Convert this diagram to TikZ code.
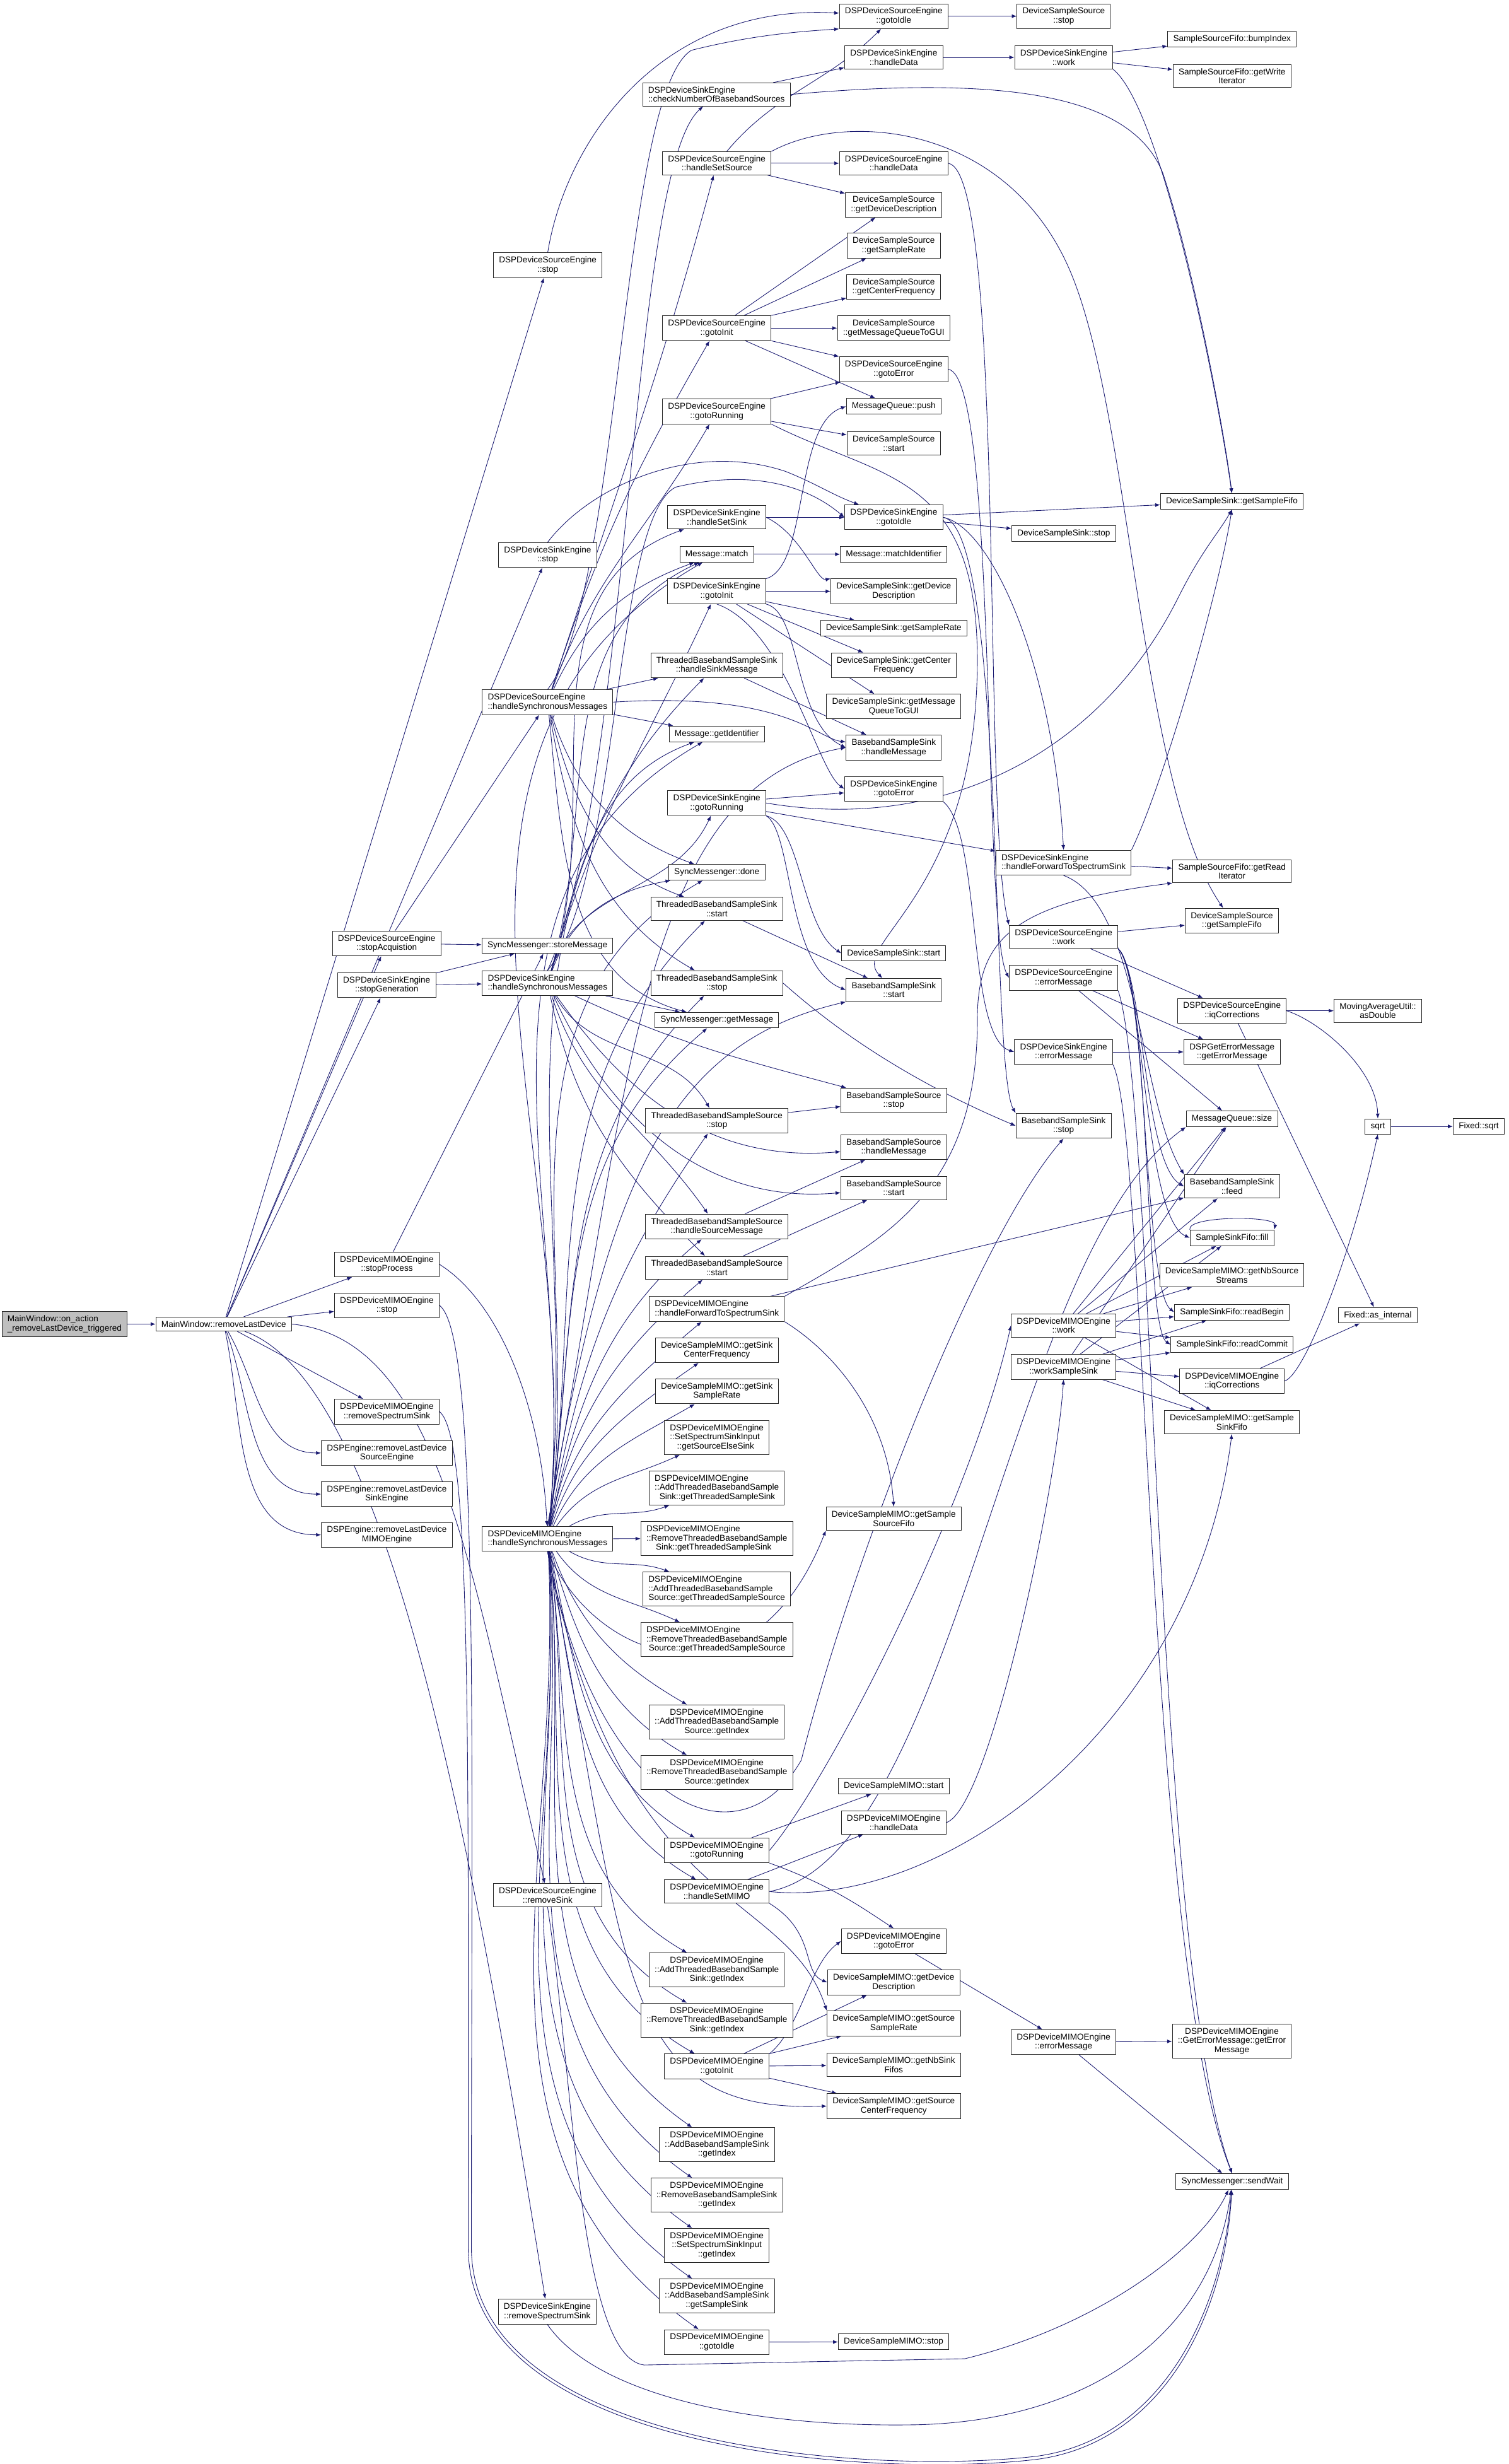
\documentclass[tikz,border=0pt]{standalone}
\usepackage{fontspec}
\setmainfont{Liberation Sans}
\usepackage{xcolor}
\usepackage{tikz}
\usetikzlibrary{arrows.meta,backgrounds}

\definecolor{edgeblue}{RGB}{25,25,112}
\definecolor{rootgray}{RGB}{191,191,191}

\begin{document}
\begin{tikzpicture}[
    x=0.25mm, y=-0.25mm,
    font=\fontsize{3.875}{4.125}\selectfont,
    fn/.style={draw=black!85, line width=0.28pt, fill=white, align=center,
               inner xsep=2.5pt, inner ysep=1.75pt},
    fnl/.style={fn, align=left},
    root/.style={fnl, fill=rootgray},
    call/.style={-{Latex[length=2.25pt,width=1.75pt]}, draw=edgeblue, line width=0.25pt}]
    \useasboundingbox (0,0) rectangle (960,1568);
    % caller side
    \node[root] (onAction) at (41.1,842.6) {MainWindow::on\_action\\\_removeLastDevice\_triggered};
    \node[fn] (removeLast) at (142.4,842.6) {MainWindow::removeLastDevice};
    \node[fn] (stopAcq) at (246.1,600.3) {DSPDeviceSourceEngine\\::stopAcquistion};
    \node[fn] (stopGen) at (246.1,626.9) {DSPDeviceSinkEngine\\::stopGeneration};
    \node[fn] (mimoStopProc) at (246.2,804.6) {DSPDeviceMIMOEngine\\::stopProcess};
    \node[fn] (mimoStop) at (246.2,830.7) {DSPDeviceMIMOEngine\\::stop};
    \node[fn] (mimoRmSpec) at (246.2,898.3) {DSPDeviceMIMOEngine\\::removeSpectrumSink};
    \node[fn] (engRmSrc) at (246.2,924.6) {DSPEngine::removeLastDevice\\SourceEngine};
    \node[fn] (engRmSink) at (246.2,950.8) {DSPEngine::removeLastDevice\\SinkEngine};
    \node[fn] (engRmMimo) at (246.2,976.7) {DSPEngine::removeLastDevice\\MIMOEngine};
    \node[fn] (srcStop) at (348.6,168.7) {DSPDeviceSourceEngine\\::stop};
    \node[fn] (sinkStop) at (348.5,353.2) {DSPDeviceSinkEngine\\::stop};
    \node[fnl] (srcHSM) at (348.5,446.8) {DSPDeviceSourceEngine\\::handleSynchronousMessages};
    \node[fn] (storeMsg) at (348.4,601.7) {SyncMessenger::storeMessage};
    \node[fnl] (sinkHSM) at (348.5,625.6) {DSPDeviceSinkEngine\\::handleSynchronousMessages};
    \node[fnl] (mimoHSM) at (348.5,979.2) {DSPDeviceMIMOEngine\\::handleSynchronousMessages};
    \node[fn] (srcRmSink) at (348.5,1206) {DSPDeviceSourceEngine\\::removeSink};
    \node[fn] (sinkRmSpec) at (348.3,1471) {DSPDeviceSinkEngine\\::removeSpectrumSink};
    % engine internals
    \node[fnl] (sinkCheckNb) at (456,60.1) {DSPDeviceSinkEngine\\::checkNumberOfBasebandSources};
    \node[fn] (srcSetSource) at (456.2,103.9) {DSPDeviceSourceEngine\\::handleSetSource};
    \node[fn] (srcInit) at (456.2,208.8) {DSPDeviceSourceEngine\\::gotoInit};
    \node[fn] (srcRunning) at (456.2,261.8) {DSPDeviceSourceEngine\\::gotoRunning};
    \node[fn] (sinkSetSink) at (456.2,329.2) {DSPDeviceSinkEngine\\::handleSetSink};
    \node[fn] (msgMatch) at (456.2,352.7) {Message::match};
    \node[fn] (sinkInit) at (456.2,376.3) {DSPDeviceSinkEngine\\::gotoInit};
    \node[fn] (tbssHandle) at (456.2,423.4) {ThreadedBasebandSampleSink\\::handleSinkMessage};
    \node[fn] (msgGetId) at (456.2,467) {Message::getIdentifier};
    \node[fn] (sinkRunning) at (456.2,511) {DSPDeviceSinkEngine\\::gotoRunning};
    \node[fn] (syncDone) at (456.2,555.1) {SyncMessenger::done};
    \node[fn] (tbssStart) at (456.2,578.3) {ThreadedBasebandSampleSink\\::start};
    \node[fn] (tbssStop) at (456.2,625.6) {ThreadedBasebandSampleSink\\::stop};
    \node[fn] (syncGetMsg) at (456.2,649.2) {SyncMessenger::getMessage};
    \node[fn] (tbsrcStop) at (456.2,713.2) {ThreadedBasebandSampleSource\\::stop};
    \node[fn] (tbsrcHandle) at (456.2,780.5) {ThreadedBasebandSampleSource\\::handleSourceMessage};
    \node[fn] (tbsrcStart) at (456.2,806.8) {ThreadedBasebandSampleSource\\::start};
    \node[fnl] (mimoFwd) at (456.2,833) {DSPDeviceMIMOEngine\\::handleForwardToSpectrumSink};
    \node[fn] (mimoSinkCF) at (456.2,859.2) {DeviceSampleMIMO::getSink\\CenterFrequency};
    \node[fn] (mimoSinkSR) at (456.2,885.4) {DeviceSampleMIMO::getSink\\SampleRate};
    \node[fnl] (mimoSSIElse) at (456.2,914.8) {DSPDeviceMIMOEngine\\::SetSpectrumSinkInput\\\ \ \ ::getSourceElseSink};
    \node[fnl] (mimoAddTSink) at (456.2,946.9) {DSPDeviceMIMOEngine\\::AddThreadedBasebandSample\\\ \ Sink::getThreadedSampleSink};
    \node[fnl] (mimoRmTSink) at (456.2,979.1) {DSPDeviceMIMOEngine\\::RemoveThreadedBasebandSample\\\ \ \ \ Sink::getThreadedSampleSink};
    \node[fnl] (mimoAddTSrc) at (456.2,1011.2) {DSPDeviceMIMOEngine\\::AddThreadedBasebandSample\\Source::getThreadedSampleSource};
    \node[fnl] (mimoRmTSrc) at (456.2,1043.3) {DSPDeviceMIMOEngine\\::RemoveThreadedBasebandSample\\\ Source::getThreadedSampleSource};
    \node[fn] (mimoAddTSrcIdx) at (456.2,1095.7) {DSPDeviceMIMOEngine\\::AddThreadedBasebandSample\\Source::getIndex};
    \node[fn] (mimoRmTSrcIdx) at (456.2,1127.9) {DSPDeviceMIMOEngine\\::RemoveThreadedBasebandSample\\Source::getIndex};
    \node[fn] (mimoRunning) at (456.2,1177.5) {DSPDeviceMIMOEngine\\::gotoRunning};
    \node[fn] (mimoSetMIMO) at (456.2,1203.7) {DSPDeviceMIMOEngine\\::handleSetMIMO};
    \node[fn] (mimoAddTSinkIdx) at (456.2,1253.6) {DSPDeviceMIMOEngine\\::AddThreadedBasebandSample\\Sink::getIndex};
    \node[fn] (mimoRmTSinkIdx) at (456.2,1285.5) {DSPDeviceMIMOEngine\\::RemoveThreadedBasebandSample\\Sink::getIndex};
    \node[fn] (mimoInit) at (456.2,1315) {DSPDeviceMIMOEngine\\::gotoInit};
    \node[fn] (mimoAddBSinkIdx) at (456.2,1364.8) {DSPDeviceMIMOEngine\\::AddBasebandSampleSink\\::getIndex};
    \node[fn] (mimoRmBSinkIdx) at (456.2,1396.9) {DSPDeviceMIMOEngine\\::RemoveBasebandSampleSink\\::getIndex};
    \node[fn] (mimoSSIIdx) at (456.2,1428.9) {DSPDeviceMIMOEngine\\::SetSpectrumSinkInput\\::getIndex};
    \node[fn] (mimoAddBSinkSS) at (456.2,1461) {DSPDeviceMIMOEngine\\::AddBasebandSampleSink\\::getSampleSink};
    \node[fn] (mimoIdle) at (456.2,1490.4) {DSPDeviceMIMOEngine\\::gotoIdle};
    % devices and helpers
    \node[fn] (srcIdle) at (568.8,10.3) {DSPDeviceSourceEngine\\::gotoIdle};
    \node[fn] (sinkHandleData) at (568.8,36.5) {DSPDeviceSinkEngine\\::handleData};
    \node[fn] (srcHandleData) at (568.8,103.9) {DSPDeviceSourceEngine\\::handleData};
    \node[fn] (dssDevDesc) at (568.8,130.3) {DeviceSampleSource\\::getDeviceDescription};
    \node[fn] (dssSR) at (568.8,156.3) {DeviceSampleSource\\::getSampleRate};
    \node[fn] (dssCF) at (568.8,182.7) {DeviceSampleSource\\::getCenterFrequency};
    \node[fn] (dssMQ) at (568.8,208.8) {DeviceSampleSource\\::getMessageQueueToGUI};
    \node[fn] (srcError) at (568.8,235) {DSPDeviceSourceEngine\\::gotoError};
    \node[fn] (mqPush) at (568.8,258.6) {MessageQueue::push};
    \node[fn] (dssStart) at (568.8,282.2) {DeviceSampleSource\\::start};
    \node[fn] (sinkIdle) at (568.8,329.2) {DSPDeviceSinkEngine\\::gotoIdle};
    \node[fn] (msgMatchId) at (568.8,352.7) {Message::matchIdentifier};
    \node[fn] (dskDevDesc) at (568.8,376.3) {DeviceSampleSink::getDevice\\Description};
    \node[fn] (dskSR) at (568.8,399.8) {DeviceSampleSink::getSampleRate};
    \node[fn] (dskCF) at (568.8,423.4) {DeviceSampleSink::getCenter\\Frequency};
    \node[fn] (dskMQ) at (568.8,449.6) {DeviceSampleSink::getMessage\\QueueToGUI};
    \node[fn] (bssHandle) at (568.8,475.7) {BasebandSampleSink\\::handleMessage};
    \node[fn] (sinkError) at (568.8,502) {DSPDeviceSinkEngine\\::gotoError};
    \node[fn] (dskStart) at (568.8,606.6) {DeviceSampleSink::start};
    \node[fn] (bssStart) at (568.8,630) {BasebandSampleSink\\::start};
    \node[fn] (bsrcStop) at (568.8,700.3) {BasebandSampleSource\\::stop};
    \node[fn] (bsrcHandle) at (568.8,729.9) {BasebandSampleSource\\::handleMessage};
    \node[fn] (bsrcStart) at (568.8,756) {BasebandSampleSource\\::start};
    \node[fn] (dsmSrcFifo) at (568.8,966.4) {DeviceSampleMIMO::getSample\\SourceFifo};
    \node[fn] (dsmStart) at (568.8,1136.5) {DeviceSampleMIMO::start};
    \node[fn] (mimoHandleData) at (568.8,1159.8) {DSPDeviceMIMOEngine\\::handleData};
    \node[fn] (mimoError) at (568.8,1235.2) {DSPDeviceMIMOEngine\\::gotoError};
    \node[fn] (dsmDevDesc) at (568.8,1261.5) {DeviceSampleMIMO::getDevice\\Description};
    \node[fn] (dsmSrcSR) at (568.8,1287.6) {DeviceSampleMIMO::getSource\\SampleRate};
    \node[fn] (dsmNbSink) at (568.8,1314) {DeviceSampleMIMO::getNbSink\\Fifos};
    \node[fn] (dsmSrcCF) at (568.8,1340.2) {DeviceSampleMIMO::getSource\\CenterFrequency};
    \node[fn] (dsmStop) at (568.7,1490.3) {DeviceSampleMIMO::stop};
    \node[fn] (dssStop) at (677,10.3) {DeviceSampleSource\\::stop};
    \node[fn] (sinkWork) at (677,36.5) {DSPDeviceSinkEngine\\::work};
    \node[fn] (dskStop) at (677,339.5) {DeviceSampleSink::stop};
    \node[fnl] (sinkFwd) at (676.9,549) {DSPDeviceSinkEngine\\::handleForwardToSpectrumSink};
    \node[fn] (srcWork) at (676.9,596.2) {DSPDeviceSourceEngine\\::work};
    \node[fn] (srcErrMsg) at (676.9,622.3) {DSPDeviceSourceEngine\\::errorMessage};
    \node[fn] (sinkErrMsg) at (676.9,669.4) {DSPDeviceSinkEngine\\::errorMessage};
    \node[fn] (bssStop) at (676.9,716.4) {BasebandSampleSink\\::stop};
    \node[fn] (mimoWork) at (676.9,843.5) {DSPDeviceMIMOEngine\\::work};
    \node[fn] (mimoWorkSink) at (676.9,869.8) {DSPDeviceMIMOEngine\\::workSampleSink};
    \node[fn] (mimoErrMsg) at (676.9,1299.5) {DSPDeviceMIMOEngine\\::errorMessage};
    \node[fn] (ssfBump) at (784.1,24.9) {SampleSourceFifo::bumpIndex};
    \node[fn] (ssfWrite) at (784.1,48.4) {SampleSourceFifo::getWrite\\Iterator};
    \node[fn] (dskFifo) at (784,319.1) {DeviceSampleSink::getSampleFifo};
    \node[fn] (ssfRead) at (784.1,554.4) {SampleSourceFifo::getRead\\Iterator};
    \node[fn] (dssFifo) at (784,585.9) {DeviceSampleSource\\::getSampleFifo};
    \node[fn] (srcIQ) at (784.1,643.2) {DSPDeviceSourceEngine\\::iqCorrections};
    \node[fn] (getErr) at (784.1,669.4) {DSPGetErrorMessage\\::getErrorMessage};
    \node[fn] (mqSize) at (784,712) {MessageQueue::size};
    \node[fn] (bssFeed) at (784.1,755) {BasebandSampleSink\\::feed};
    \node[fn] (fifoFill) at (784.1,787.7) {SampleSinkFifo::fill};
    \node[fn] (dsmNbSrc) at (784,811.5) {DeviceSampleMIMO::getNbSource\\Streams};
    \node[fn] (fifoReadBegin) at (784,835) {SampleSinkFifo::readBegin};
    \node[fn] (fifoReadCommit) at (784.1,855.6) {SampleSinkFifo::readCommit};
    \node[fn] (mimoIQ) at (784.1,878.8) {DSPDeviceMIMOEngine\\::iqCorrections};
    \node[fn] (dsmSinkFifo) at (784,905) {DeviceSampleMIMO::getSample\\SinkFifo};
    \node[fn] (mimoGetErr) at (784,1298.8) {DSPDeviceMIMOEngine\\::GetErrorMessage::getError\\Message};
    \node[fn] (sendWait) at (784.2,1388.3) {SyncMessenger::sendWait};
    \node[fn] (maDouble) at (876.9,643.2) {MovingAverageUtil::\\asDouble};
    \node[fn] (sqrtN) at (876.9,716.8) {sqrt};
    \node[fn] (fixInternal) at (876.9,837) {Fixed::as\_internal};
    \node[fn] (fixSqrt) at (941.1,716.8) {Fixed::sqrt};

    \begin{scope}[on background layer]
    % from the menu action
    \draw[call] (onAction) -- (removeLast);
    \draw[call] (removeLast) -- (srcStop);
    \draw[call] (removeLast) -- (sinkStop);
    \draw[call] (removeLast) -- (stopAcq);
    \draw[call] (removeLast) -- (stopGen);
    \draw[call] (removeLast) -- (mimoStopProc);
    \draw[call] (removeLast) -- (mimoStop);
    \draw[call] (removeLast) -- (mimoRmSpec);
    \draw[call] (removeLast) to[out=-60,in=180] (engRmSrc);
    \draw[call] (removeLast) to[out=-70,in=180] (engRmSink);
    \draw[call] (removeLast) to[out=-78,in=180] (engRmMimo);
    \draw[call] (removeLast.east) .. controls (280,852) and (300,1000) .. (srcRmSink);
    \draw[call] (removeLast) .. controls (250,880) and (305,1200) .. (sinkRmSpec);
    \draw[call] (stopAcq) -- (storeMsg);
    \draw[call] (stopAcq) -- (srcHSM);
    \draw[call] (stopGen) -- (storeMsg);
    \draw[call] (stopGen) -- (sinkHSM);
    \draw[call] (mimoStopProc) -- (storeMsg);
    \draw[call] (mimoStopProc.east) .. controls (320,830) and (345,900) .. (mimoHSM);
    \draw[call] (mimoStop.east) .. controls (305,850) and (300,1100) .. (300,1430)
          .. controls (300,1560) and (560,1575) .. (660,1563)
          .. controls (740,1552) and (778,1470) .. (sendWait);
    \draw[call] (mimoRmSpec.east) .. controls (300,915) and (298,1100) .. (298,1430)
          .. controls (298,1562) and (560,1577) .. (660,1565)
          .. controls (742,1554) and (780,1470) .. (sendWait);
    \draw[call] (srcRmSink.south) .. controls (365,1320) and (368,1500) .. (410,1505)
          -- (614,1501) .. controls (700,1480) and (765,1430) .. (sendWait);
    \draw[call] (sinkRmSpec.south) .. controls (380,1525) and (480,1545) .. (584,1543)
          .. controls (700,1540) and (772,1480) .. (sendWait);
    % source engine
    \draw[call] (srcStop.north) .. controls (360,90) and (420,2) .. (srcIdle);
    \draw[call] (srcHSM.north) .. controls (395,380) and (395,60) .. (440,32)
          .. controls (480,22) and (510,20) .. (srcIdle.south west);
    \draw[call] (srcHSM) to[out=72,in=-105] (srcSetSource);
    \draw[call] (srcHSM) to[out=72,in=-120] (srcInit);
    \draw[call] (srcHSM) to[out=70,in=-120] (srcRunning);
    \draw[call] (srcHSM) to[out=65,in=200] (msgMatch);
    \draw[call] (srcHSM) -- (tbssHandle);
    \draw[call] (srcHSM) -- (msgGetId);
    \draw[call] (srcHSM.east) .. controls (500,440) and (520,470) .. (bssHandle);
    \draw[call] (srcHSM) to[out=-72,in=160] (syncDone);
    \draw[call] (srcHSM) to[out=-76,in=160] (tbssStart);
    \draw[call] (srcHSM) to[out=-80,in=150] (tbssStop);
    \draw[call] (srcHSM) to[out=-84,in=165] (syncGetMsg);
    \draw[call] (srcIdle) -- (dssStop);
    \draw[call] (srcSetSource) to[out=50,in=-135] (srcIdle);
    \draw[call] (srcSetSource) -- (srcHandleData);
    \draw[call] (srcSetSource) -- (dssDevDesc);
    \draw[call] (srcSetSource.north east) .. controls (540,70) and (640,80) .. (680,170)
          .. controls (720,260) and (725,500) .. (dssFifo);
    \draw[call] (srcHandleData.east) .. controls (640,110) and (625,520) .. (srcWork.north west);
    \draw[call] (srcInit) -- (dssDevDesc);
    \draw[call] (srcInit) -- (dssSR);
    \draw[call] (srcInit) -- (dssCF);
    \draw[call] (srcInit) -- (dssMQ);
    \draw[call] (srcInit) -- (srcError);
    \draw[call] (srcInit) -- (mqPush);
    \draw[call] (srcRunning) -- (srcError);
    \draw[call] (srcRunning) -- (dssStart);
    \draw[call] (srcRunning.south east) .. controls (560,305) and (622,300) .. (622,420)
          .. controls (622,570) and (540,600) .. (bssStart);
    \draw[call] (srcError.east) .. controls (635,240) and (625,590) .. (srcErrMsg.west);
    \draw[call] (srcWork) -- (dssFifo);
    \draw[call] (srcWork) -- (srcIQ);
    \draw[call] (srcWork.south east) .. controls (728,620) and (728,740) .. (bssFeed.west);
    \draw[call] (srcWork.south east) .. controls (728,620) and (728,775) .. (fifoFill.west);
    \draw[call] (srcWork.south east) .. controls (730,620) and (728,820) .. (fifoReadBegin.west);
    \draw[call] (srcWork.south east) .. controls (732,620) and (728,845) .. (fifoReadCommit.west);
    \draw[call] (srcErrMsg) -- (getErr);
    \draw[call] (srcErrMsg) -- (mqSize);
    \draw[call] (srcErrMsg.south east) .. controls (735,700) and (735,1250) .. (sendWait.north);
    \draw[call] (srcIQ) -- (maDouble);
    \draw[call] (srcIQ.east) .. controls (840,650) and (876,680) .. (sqrtN.north);
    \draw[call] (srcIQ) -- (fixInternal);
    \draw[call] (sqrtN) -- (fixSqrt);
    \draw[call] (fifoFill.north west) .. controls +(-2,-9) and +(2,-9) .. (fifoFill.north east);
    % sink engine
    \draw[call] (sinkStop.north) .. controls (375,310) and (440,280) .. (500,300)
          .. controls (520,308) and (530,315) .. (sinkIdle);
    \draw[call] (sinkHSM.north) .. controls (395,560) and (390,330) .. (430,310)
          .. controls (480,298) and (515,310) .. (sinkIdle.west);
    \draw[call] (sinkHSM.north) .. controls (402,500) and (400,110) .. (sinkCheckNb);
    \draw[call] (sinkHSM) to[out=72,in=200] (sinkSetSink);
    \draw[call] (sinkHSM) to[out=74,in=-115] (sinkInit);
    \draw[call] (sinkHSM) to[out=74,in=-115] (sinkRunning);
    \draw[call] (sinkHSM) to[out=74,in=205] (msgMatch);
    \draw[call] (sinkHSM) to[out=74,in=200] (msgGetId);
    \draw[call] (sinkHSM) to[out=70,in=190] (syncDone);
    \draw[call] (sinkHSM) -- (syncGetMsg);
    \draw[call] (sinkHSM) to[out=-60,in=120] (tbsrcStop);
    \draw[call] (sinkHSM) to[out=-72,in=125] (tbsrcHandle);
    \draw[call] (sinkHSM) to[out=-78,in=135] (tbsrcStart);
    \draw[call] (sinkHSM) to[out=-25,in=165] (bsrcStop);
    \draw[call] (sinkHSM) to[out=-55,in=185] (bsrcHandle);
    \draw[call] (sinkHSM) to[out=-65,in=185] (bsrcStart);
    \draw[call] (sinkCheckNb) -- (sinkHandleData);
    \draw[call] (sinkCheckNb.east) .. controls (640,48) and (720,60) .. (740,110)
          .. controls (760,170) and (780,280) .. (dskFifo.north);
    \draw[call] (sinkHandleData) -- (sinkWork);
    \draw[call] (sinkWork) -- (ssfBump);
    \draw[call] (sinkWork) -- (ssfWrite);
    \draw[call] (sinkWork.south east) .. controls (740,70) and (775,250) .. (dskFifo.north);
    \draw[call] (sinkSetSink) -- (sinkIdle);
    \draw[call] (sinkSetSink.east) .. controls (510,340) and (520,370) .. (dskDevDesc.north west);
    \draw[call] (sinkInit) -- (dskDevDesc);
    \draw[call] (sinkInit) -- (dskSR);
    \draw[call] (sinkInit) -- (dskCF);
    \draw[call] (sinkInit) -- (dskMQ);
    \draw[call] (sinkInit.north east) .. controls (515,360) and (505,270) .. (mqPush.west);
    \draw[call] (sinkInit.south east) .. controls (510,390) and (505,460) .. (bssHandle.west);
    \draw[call] (sinkInit.south) .. controls (500,400) and (520,490) .. (sinkError.west);
    \draw[call] (msgMatch) -- (msgMatchId);
    \draw[call] (sinkIdle) -- (dskStop);
    \draw[call] (sinkIdle) -- (dskFifo);
    \draw[call] (sinkIdle.east) .. controls (640,335) and (630,680) .. (bssStop.north west);
    \draw[call] (sinkIdle.east) .. controls (630,335) and (670,420) .. (sinkFwd.north);
    \draw[call] (tbssHandle) -- (bssHandle);
    \draw[call] (sinkRunning) -- (sinkError);
    \draw[call] (sinkRunning.south east) .. controls (510,525) and (510,590) .. (dskStart.west);
    \draw[call] (sinkRunning.south east) .. controls (505,530) and (500,615) .. (bssStart.west);
    \draw[call] (sinkRunning) -- (sinkFwd);
    \draw[call] (sinkRunning.east) .. controls (600,530) and (700,480) .. (750,380)
          .. controls (765,350) and (775,340) .. (dskFifo.south);
    \draw[call] (sinkError.south east) .. controls (625,530) and (615,660) .. (sinkErrMsg.west);
    \draw[call] (sinkFwd) -- (ssfRead);
    \draw[call] (sinkFwd.north east) .. controls (740,500) and (775,380) .. (dskFifo.south);
    \draw[call] (sinkFwd.south) .. controls (725,575) and (725,700) .. (bssFeed.north west);
    \draw[call] (sinkErrMsg) -- (getErr);
    \draw[call] (sinkErrMsg.south east) .. controls (730,720) and (730,1250) .. (sendWait.north);
    \draw[call] (tbssStart) -- (bssStart);
    \draw[call] (tbssStop.east) .. controls (515,640) and (560,680) .. (bssStop.west);
    \draw[call] (tbsrcStop) -- (bsrcStop);
    \draw[call] (tbsrcHandle) -- (bsrcHandle);
    \draw[call] (tbsrcStart) -- (bsrcStart);
    % MIMO engine, upward
    \draw[call] (mimoHSM) to[out=84,in=-150] (msgMatch);
    \draw[call] (mimoHSM) to[out=84,in=-150] (msgGetId);
    \draw[call] (mimoHSM) to[out=84,in=-135] (tbssHandle);
    \draw[call] (mimoHSM) to[out=82,in=-150] (syncDone);
    \draw[call] (mimoHSM) to[out=82,in=-135] (tbssStart);
    \draw[call] (mimoHSM) to[out=82,in=-135] (tbssStop);
    \draw[call] (mimoHSM) to[out=82,in=-140] (syncGetMsg);
    \draw[call] (mimoHSM) to[out=80,in=-125] (tbsrcStop);
    \draw[call] (mimoHSM) to[out=78,in=-140] (tbsrcHandle);
    \draw[call] (mimoHSM) to[out=78,in=-140] (tbsrcStart);
    \draw[call] (mimoHSM) to[out=76,in=-140] (mimoFwd);
    \draw[call] (mimoHSM) to[out=72,in=-145] (mimoSinkCF);
    \draw[call] (mimoHSM) to[out=66,in=-150] (mimoSinkSR);
    \draw[call] (mimoHSM) to[out=55,in=-155] (mimoSSIElse);
    \draw[call] (mimoHSM) to[out=30,in=-160] (mimoAddTSink);
    \draw[call] (mimoHSM) -- (mimoRmTSink);
    \draw[call] (mimoHSM.north) .. controls (400,700) and (405,500) .. (bssHandle.west);
    \draw[call] (mimoHSM.north) .. controls (385,760) and (420,665) .. (bssStart.south west);
    \draw[call] (mimoHSM.south) .. controls (380,1150) and (470,1190) .. (510,1120)
          .. controls (540,1000) and (620,790) .. (bssStop.south);
    % MIMO engine, downward
    \draw[call] (mimoHSM) to[out=-30,in=160] (mimoAddTSrc);
    \draw[call] (mimoHSM) to[out=-55,in=155] (mimoRmTSrc);
    \draw[call] (mimoHSM) to[out=-70,in=150] (mimoAddTSrcIdx);
    \draw[call] (mimoHSM) to[out=-74,in=150] (mimoRmTSrcIdx);
    \draw[call] (mimoHSM) to[out=-78,in=150] (mimoRunning);
    \draw[call] (mimoHSM) to[out=-80,in=150] (mimoSetMIMO);
    \draw[call] (mimoHSM) to[out=-82,in=150] (mimoAddTSinkIdx);
    \draw[call] (mimoHSM) to[out=-82,in=150] (mimoRmTSinkIdx);
    \draw[call] (mimoHSM) to[out=-84,in=150] (mimoInit);
    \draw[call] (mimoHSM) to[out=-84,in=145] (mimoAddBSinkIdx);
    \draw[call] (mimoHSM) to[out=-85,in=145] (mimoRmBSinkIdx);
    \draw[call] (mimoHSM) to[out=-86,in=145] (mimoSSIIdx);
    \draw[call] (mimoHSM) to[out=-86,in=145] (mimoAddBSinkSS);
    \draw[call] (mimoHSM) to[out=-87,in=145] (mimoIdle);
    \draw[call] (mimoHSM.south) .. controls (380,1060) and (480,1090) .. (dsmSrcFifo.south west);
    \draw[call] (mimoHSM.south) .. controls (395,1220) and (500,1200) .. (dsmSrcSR.north west);
    \draw[call] (mimoHSM.south) .. controls (400,1250) and (390,1345) .. (dsmSrcCF.west);
    % MIMO engine internals
    \draw[call] (mimoFwd.north east) .. controls (560,790) and (622,760) .. (622,650)
          .. controls (622,600) and (640,575) .. (ssfRead.south west);
    \draw[call] (mimoFwd) -- (bssFeed);
    \draw[call] (mimoFwd.south east) .. controls (530,860) and (565,900) .. (dsmSrcFifo.north);
    \draw[call] (mimoRunning) -- (dsmStart);
    \draw[call] (mimoRunning.south east) .. controls (530,1200) and (550,1215) .. (mimoError.north);
    \draw[call] (mimoRunning.east) .. controls (530,1130) and (620,950) .. (mimoWork.west);
    \draw[call] (mimoSetMIMO) -- (mimoHandleData);
    \draw[call] (mimoSetMIMO.south east) .. controls (520,1230) and (510,1255) .. (dsmDevDesc.west);
    \draw[call] (mimoSetMIMO.east) .. controls (600,1215) and (760,1100) .. (dsmSinkFifo.south);
    \draw[call] (mimoSetMIMO.east) .. controls (610,1180) and (640,800) .. (mqSize.south west);
    \draw[call] (mimoHandleData.east) .. controls (630,1150) and (672,950) .. (mimoWorkSink.south);
    \draw[call] (mimoInit) -- (dsmDevDesc);
    \draw[call] (mimoInit) -- (dsmSrcSR);
    \draw[call] (mimoInit) -- (dsmNbSink);
    \draw[call] (mimoInit) -- (dsmSrcCF);
    \draw[call] (mimoInit.north east) .. controls (510,1290) and (515,1250) .. (mimoError.west);
    \draw[call] (mimoError) -- (mimoErrMsg);
    \draw[call] (mimoIdle) -- (dsmStop);
    \draw[call] (mimoErrMsg) -- (mimoGetErr);
    \draw[call] (mimoErrMsg) -- (sendWait);
    \draw[call] (mimoWork) -- (dsmNbSrc);
    \draw[call] (mimoWork) -- (fifoReadBegin);
    \draw[call] (mimoWork) -- (fifoReadCommit);
    \draw[call] (mimoWork) -- (fifoFill);
    \draw[call] (mimoWork) -- (bssFeed);
    \draw[call] (mimoWork) -- (mqSize);
    \draw[call] (mimoWork) -- (dsmSinkFifo);
    \draw[call] (mimoWorkSink) -- (fifoReadBegin);
    \draw[call] (mimoWorkSink) -- (fifoReadCommit);
    \draw[call] (mimoWorkSink) -- (fifoFill);
    \draw[call] (mimoWorkSink) -- (mqSize);
    \draw[call] (mimoWorkSink) -- (mimoIQ);
    \draw[call] (mimoWorkSink) -- (dsmSinkFifo);
    \draw[call] (mimoIQ.east) .. controls (830,875) and (860,800) .. (sqrtN.south);
    \draw[call] (mimoIQ) -- (fixInternal);
    \end{scope}
\end{tikzpicture}
\end{document}
